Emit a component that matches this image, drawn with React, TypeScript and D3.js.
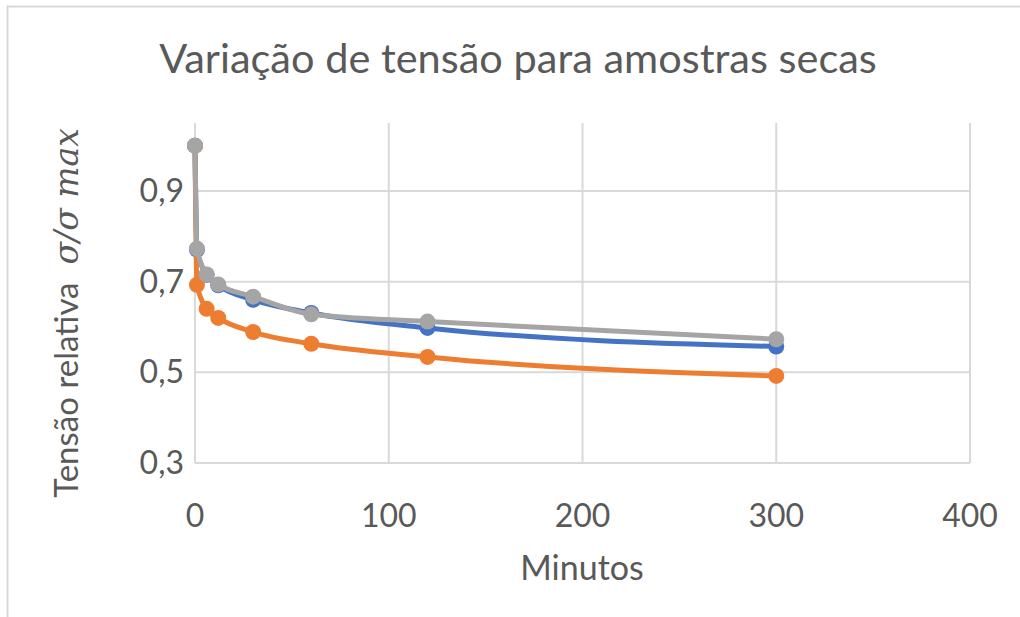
import React, { useEffect, useRef } from "react";
import * as d3 from "d3";

// Time in minutes and relative stress for each dry sample
const minutes = [0, 1, 6, 12, 30, 60, 120, 300];
const sampleBlue = [1.0, 0.771, 0.715, 0.692, 0.66, 0.631, 0.598, 0.557];
const sampleOrange = [1.0, 0.693, 0.64, 0.62, 0.589, 0.563, 0.534, 0.492];
const sampleGray = [1.0, 0.773, 0.716, 0.694, 0.667, 0.628, 0.612, 0.573];
const seriesColors = ["#4472C4", "#ED7D31", "#A5A5A5"];
const yTicks = [0.3, 0.5, 0.7, 0.9];
const xTicks = [0, 100, 200, 300, 400];

const W = 1020;
const H = 617;
const FONT = "Lato, 'Open Sans', sans-serif";

export default function App() {
  const ref = useRef<SVGSVGElement | null>(null);

  useEffect(() => {
    const svg = d3.select(ref.current);
    svg.selectAll("*").remove();

    const left = 195, right = 970, top = 123, bottom = 463;
    const x = d3.scaleLinear().domain([0, 400]).range([left, right]);
    const y = d3.scaleLinear().domain([0.3, 1.05]).range([bottom, top]);

    svg.append("rect").attr("width", W).attr("height", H).attr("fill", "#fff");
    // chart frame
    svg.append("path")
      .attr("d", `M7.5,${H} V6.5 H${W}`)
      .attr("fill", "none").attr("stroke", "#d9d9d9").attr("stroke-width", 2);

    svg.append("text")
      .attr("x", 518).attr("y", 73)
      .attr("text-anchor", "middle")
      .attr("font-family", FONT).attr("font-size", 41.5)
      .attr("fill", "#595959")
      .text("Variação de tensão para amostras secas");

    const grid = svg.append("g").attr("stroke", "#d9d9d9").attr("stroke-width", 2);
    yTicks.forEach((t) => {
      grid.append("line").attr("x1", left).attr("x2", right)
        .attr("y1", y(t)).attr("y2", y(t));
    });
    xTicks.forEach((t) => {
      grid.append("line").attr("x1", x(t)).attr("x2", x(t))
        .attr("y1", top).attr("y2", bottom);
    });

    const tickText = svg.append("g").attr("font-family", FONT)
      .attr("font-size", 32).attr("fill", "#595959");
    yTicks.forEach((t) => {
      tickText.append("text").attr("x", 184).attr("y", y(t) + 11)
        .attr("text-anchor", "end").text(d3.format(".1f")(t).replace(".", ","));
    });
    xTicks.forEach((t) => {
      tickText.append("text").attr("x", x(t)).attr("y", 527)
        .attr("text-anchor", "middle").text(String(t));
    });

    svg.append("text")
      .attr("x", 582).attr("y", 580)
      .attr("text-anchor", "middle")
      .attr("font-family", FONT).attr("font-size", 34).attr("fill", "#595959")
      .text("Minutos");

    const yTitle = svg.append("text")
      .attr("transform", `translate(78,${313}) rotate(-90)`)
      .attr("text-anchor", "middle")
      .attr("font-family", FONT).attr("font-size", 33).attr("fill", "#595959");
    yTitle.append("tspan").text("Tensão relativa");
    yTitle.append("tspan")
      .attr("dx", 18)
      .attr("font-family", "'DejaVu Serif', 'Liberation Serif', serif")
      .attr("font-style", "italic")
      .text("σ/σ max");

    const line = d3.line<number>()
      .x((_, i) => x(minutes[i]))
      .y((d) => y(d))
      .curve(d3.curveMonotoneX);

    [sampleBlue, sampleOrange, sampleGray].forEach((vals, k) => {
      const g = svg.append("g");
      g.append("path").attr("d", line(vals) as string)
        .attr("fill", "none").attr("stroke", seriesColors[k])
        .attr("stroke-width", 5).attr("stroke-linejoin", "round");
      g.selectAll("circle").data(vals).enter().append("circle")
        .attr("cx", (_, i) => x(minutes[i]))
        .attr("cy", (d) => y(d))
        .attr("r", 8)
        .attr("fill", seriesColors[k]);
    });
  }, []);

  return (
    <svg
      ref={ref}
      width={W}
      height={H}
      style={{ display: "block", position: "absolute", left: 0, top: 0 }}
    />
  );
}
